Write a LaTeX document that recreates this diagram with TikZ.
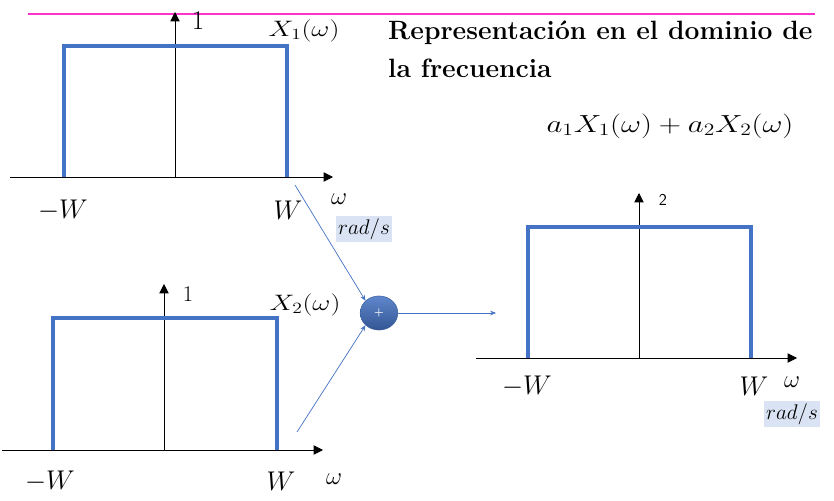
\RequirePackage{fix-cm}
\documentclass[tikz,border=0pt]{standalone}
\usepackage{amsmath}
\usepackage{graphicx}
\usetikzlibrary{positioning,arrows.meta,shapes.geometric}
\definecolor{pulseblue}{HTML}{4472C4}
\definecolor{unitbg}{HTML}{DAE3F3}
\definecolor{rulepink}{HTML}{FF33CC}
\newcommand{\wideeq}[1]{\scalebox{1.25}[1]{#1}}
\tikzset{
  axarr/.style={-{Triangle[length=8pt,width=8pt]},line width=0.7pt},
  pulse/.style={draw=pulseblue,line width=3.4pt},
  sigarr/.style={-{Stealth[length=5pt,width=4pt]},draw=pulseblue,line width=0.6pt},
  biglbl/.style={font=\fontsize{23}{25}\selectfont,inner sep=0pt},
  siglbl/.style={font=\fontsize{19}{21}\selectfont,inner sep=0pt},
  omlbl/.style={font=\fontsize{21}{23}\selectfont,inner sep=0pt},
  unitbox/.style={fill=unitbg,inner sep=2pt,font=\fontsize{18}{20}\selectfont},
  sumnode/.style={ellipse,minimum width=32pt,minimum height=29pt,inner sep=0pt,
                  top color=pulseblue!85!white,bottom color=pulseblue!75!black,
                  draw=pulseblue!80!black,line width=0.4pt,text=white,font=\small\bfseries}
}
\begin{document}
\begin{tikzpicture}[x=0.85pt,y=-0.85pt]
\useasboundingbox (0,0) rectangle (834,501);
\draw[rulepink,line width=1.6pt] (28,14) -- (815,14);

% espectro X1
\draw[axarr] (10,177) -- (333,177);
\draw[axarr] (175,177) -- (175,12);
\draw[pulse] (64,177) -- (64,46) -- (287,46) -- (287,177);
\node[biglbl] (one1) at (198,21) {$1$};
\node[siglbl] (x1) at (304,31) {\wideeq{$X_1(\omega)$}};
\node[biglbl] (mw1) at (63,210) {$-W$};
\node[biglbl] (w1) at (288,210) {$W$};
\node[omlbl] (om1) at (339,199) {$\omega$};
\node[unitbox] (u1) at (364,229) {$rad/s$};

% espectro X2
\draw[axarr] (2,450) -- (323,450);
\draw[axarr] (164,450) -- (164,284);
\draw[pulse] (53,450) -- (53,318) -- (277,318) -- (277,450);
\node[siglbl] (one2) at (188,294) {$1$};
\node[siglbl] (x2) at (305,305) {\wideeq{$X_2(\omega)$}};
\node[biglbl] (mw2) at (50,481) {$-W$};
\node[biglbl] (w2) at (281,481) {$W$};
\node[omlbl] (om2) at (334,479) {$\omega$};

% suma
\node[sumnode] (sum) at (379,313) {+};
\coordinate (s1) at (295,185);
\coordinate (s2) at (297,432);
\coordinate (out) at (496,313);
\draw[sigarr] (s1) -- (sum.north west);
\draw[sigarr] (s2) -- (sum.south west);
\draw[sigarr] (sum.east) -- (out);

% espectro resultado
\draw[axarr] (476,358) -- (797,358);
\draw[axarr] (639,358) -- (639,193);
\draw[pulse] (528,358) -- (528,227) -- (751,227) -- (751,358);
\node[font=\sffamily\fontsize{14}{16}\selectfont,inner sep=0pt] (two) at (663,200) {2};
\node[biglbl] (mw3) at (527,386) {$-W$};
\node[biglbl] (w3) at (754,386) {$W$};
\node[omlbl] (om3) at (792,382) {$\omega$};
\node[unitbox] (u3) at (792,414) {$rad/s$};

% titulo
\node[anchor=north west,align=left,inner sep=0pt,font=\fontsize{22.5}{32}\selectfont\bfseries]
  (title) at (388,21) {Representaci\'on en el dominio de\\la frecuencia};
\node[font=\fontsize{21}{23}\selectfont,inner sep=0pt] (sumeq) at (670,126)
  {\wideeq{$a_1X_1(\omega)+a_2X_2(\omega)$}};
\end{tikzpicture}
\end{document}
